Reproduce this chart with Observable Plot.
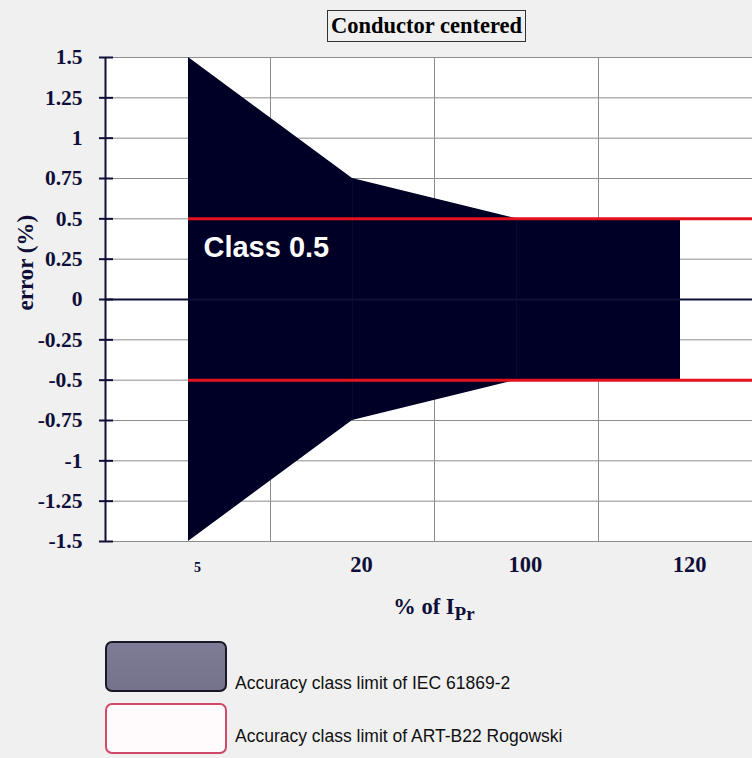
<!DOCTYPE html>
<html>
<head>
<meta charset="utf-8">
<script src="https://cdn.jsdelivr.net/npm/d3@7"></script>
<script src="https://cdn.jsdelivr.net/npm/@observablehq/plot@0.6"></script>
<style>
  html, body { margin: 0; padding: 0; background: #f0f0f0; }
  #wrap { position: relative; width: 752px; height: 758px; background: #f0f0f0; overflow: hidden; }
  #wrap svg { position: absolute; left: 0; top: 0; }
  .title { position: absolute; left: 327px; top: 10px; width: 197px; height: 30px; border: 1px solid #333;
           font: bold 22.5px "Liberation Serif", "Times New Roman", serif; color: #000; text-align: center; line-height: 30px; white-space: nowrap; }
  .xlabel { position: absolute; left: 334px; top: 594px; width: 200px; text-align: center; white-space: nowrap;
            font: bold 22.5px "Liberation Serif", serif; color: #0e0e38; }
  .xlabel sub { font-size: 19px; vertical-align: -6px; }
  .sw { position: absolute; left: 105px; width: 118px; height: 47px; border-radius: 7px; }
  .sw1 { top: 641px; background: linear-gradient(#7d7b95, #75738c); border: 2px solid #1a1a26; }
  .sw2 { top: 703px; background: #fffafc; border: 2px solid #d04a68; }
  .lg { position: absolute; left: 235px; font: 17.5px "Liberation Sans", Arial, sans-serif; color: #111; line-height: 17.5px; white-space: nowrap; }
</style>
</head>
<body>
<div id="wrap">
  <div class="title">Conductor centered</div>
  <div class="xlabel">% of I<sub>Pr</sub></div>
  <div class="sw sw1"></div>
  <div class="lg" style="top:675px">Accuracy class limit of IEC 61869-2</div>
  <div class="sw sw2"></div>
  <div class="lg" style="top:728px">Accuracy class limit of ART-B22 Rogowski</div>
</div>
<script>
// Data
const categories = ["5", "20", "100", "120"];
const iecLimit = [1.5, 0.75, 0.5, 0.5];        // ± accuracy class limit IEC 61869-2
const rogowskiLimit = [0.5, 0.5, 0.5, 0.5];    // ± accuracy class limit ART-B22
const yTicks = [-1.5, -1.25, -1, -0.75, -0.5, -0.25, 0, 0.25, 0.5, 0.75, 1, 1.25, 1.5];
const classLabel = "Class 0.5";
const yLabel = "error (%)";

const table = categories.map((c, i) => ({i, cat: c, hi: iecLimit[i], lo: -iecLimit[i], rog: rogowskiLimit[i]}));
const gridX = categories.slice(0, -1).map((c, i) => i + 0.5);
const xDomain = [-0.506, 3.439];

const navy = "#0e0e38";
const serif = "Liberation Serif, Times New Roman, serif";

const chart = Plot.plot({
  width: 752,
  height: 630,
  marginTop: 57,
  marginBottom: 89,
  marginLeft: 105,
  marginRight: 0,
  style: {background: "transparent", overflow: "visible"},
  x: {type: "linear", domain: xDomain, axis: null},
  y: {domain: [-1.5, 1.5], axis: null},
  marks: [
    Plot.frame({fill: "white", stroke: "none"}),
    Plot.ruleY(yTicks, {stroke: "#8c8c8c", strokeWidth: 1}),
    Plot.ruleX(gridX, {stroke: "#8c8c8c", strokeWidth: 1}),
    Plot.areaY(table, {x: "i", y1: "lo", y2: "hi", fill: "#000026"}),
    Plot.ruleX(table.slice(1, 3), {x: "i", y1: "lo", y2: "hi", stroke: "#0a0a34", strokeWidth: 1}),
    Plot.ruleY([0], {stroke: navy, strokeWidth: 2}),
    Plot.ruleY([rogowskiLimit[0], -rogowskiLimit[0]], {x1: table[0].i, x2: xDomain[1], stroke: "#e3121c", strokeWidth: 3}),
    Plot.ruleX([xDomain[0]], {stroke: navy, strokeWidth: 2}),
    Plot.axisY(yTicks, {anchor: "left", tickSize: 14, dx: 8, tickPadding: 17, strokeWidth: 2,
      tickFormat: d => String(d), color: navy, fontSize: 21.5, fontWeight: "bold", fontFamily: serif, label: null}),
    Plot.text(table, {x: "i", text: "cat", frameAnchor: "bottom", dy: 30, dx: 9,
      fontSize: d => d.cat === "5" ? 14 : 22.5, fontWeight: "bold", fontFamily: serif, fill: navy}),
    Plot.text([classLabel], {x: table[0].i, y: 0.32, dx: 15, textAnchor: "start", fill: "white",
      fontSize: 29, fontWeight: "bold", fontFamily: "Liberation Sans, Arial, sans-serif"}),
    Plot.text([yLabel], {frameAnchor: "left", rotate: -90, dx: -80, dy: 11,
      fontSize: 23, fontWeight: "bold", fontFamily: serif, fill: navy})
  ]
});
document.getElementById("wrap").appendChild(chart);
</script>
</body>
</html>
